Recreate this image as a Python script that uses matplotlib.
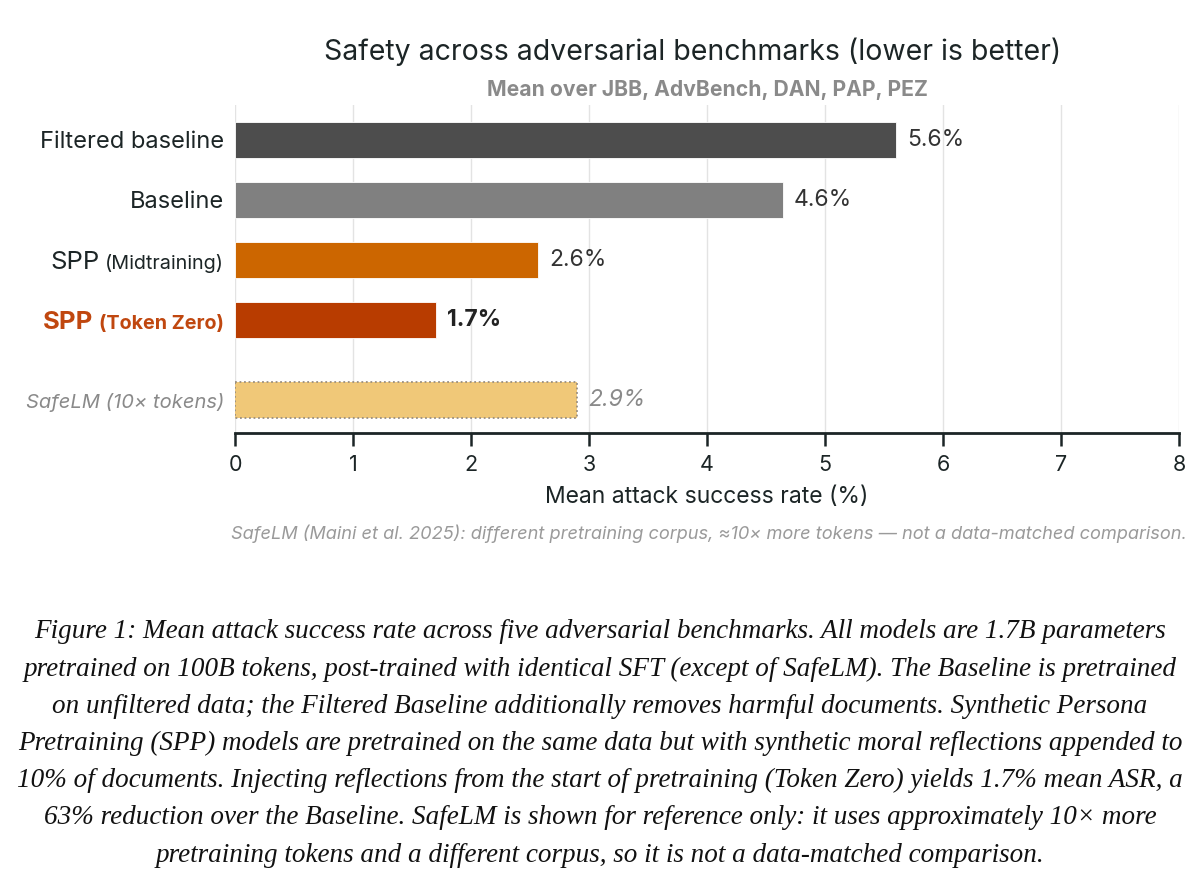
import matplotlib
matplotlib.use("Agg")
import matplotlib.pyplot as plt
from matplotlib.offsetbox import TextArea, HPacker, AnnotationBbox

# ---- data ----
names_main = ["Filtered baseline", "Baseline", "SPP", "SPP", "SafeLM (10× tokens)"]
names_suffix = ["", "", "(Midtraining)", "(Token Zero)", ""]
values = [5.6, 4.64, 2.57, 1.70, 2.9]
value_labels = ["5.6%", "4.6%", "2.6%", "1.7%", "2.9%"]
positions = [0, 1, 2, 3, 4.33]
xticks = [0, 1, 2, 3, 4, 5, 6, 7, 8]

colors = ["#4d4d4d", "#808080", "#cc6600", "#b83c00", "#f0c878"]
label_colors = ["#1c2526", "#1c2526", "#1c2526", "#c0470f", "#8a8a8a"]
label_weights = ["normal", "normal", "normal", "bold", "normal"]
label_styles = ["normal", "normal", "normal", "normal", "italic"]
label_sizes = [17, 17, 18.5, 18.5, 14.5]
val_colors = ["#333333", "#333333", "#333333", "#222222", "#8a8a8a"]

FONT = "Inter"
plt.rcParams["font.family"] = [FONT, "DejaVu Sans"]

W, H = 1200, 892
fig = plt.figure(figsize=(W / 100, H / 100), dpi=100)
ax = fig.add_axes([235 / W, 1 - 433 / H, (1179 - 235) / W, (433 - 105) / H])

for i in range(len(values)):
    if i == 4:
        ax.barh(positions[i], values[i], height=0.6, color=colors[i],
                edgecolor="#9a8f80", linewidth=1.3, linestyle=(0, (1, 1.5)), zorder=3)
    else:
        ax.barh(positions[i], values[i], height=0.6, color=colors[i],
                edgecolor="white", linewidth=0.6, zorder=3)
    ax.annotate(value_labels[i], (values[i], positions[i]), xytext=(8, 0),
                textcoords="offset points", va="center", ha="left",
                fontsize=16.5, color=val_colors[i],
                fontweight="bold" if i == 3 else "normal",
                fontstyle="italic" if i == 4 else "normal")

ax.set_xlim(0, 8)
ax.set_ylim(4.88, -0.58)
ax.set_xticks(xticks)
ax.set_xticklabels([str(t) for t in xticks], fontsize=15.5, color="#1c2526")
ax.set_yticks([])
ax.tick_params(axis="x", direction="out", length=9, width=1.8, color="#1c2526", pad=7)
ax.grid(axis="x", color="#e3e3e3", linewidth=1, zorder=0)
for s in ["top", "right", "left"]:
    ax.spines[s].set_visible(False)
ax.spines["bottom"].set_color("#1c2526")
ax.spines["bottom"].set_linewidth(2)
ax.set_xlabel("Mean attack success rate (%)", fontsize=16.5, color="#1c2526", labelpad=8)

# y category labels
for i in range(len(values)):
    parts = [TextArea(names_main[i], textprops=dict(fontsize=label_sizes[i], color=label_colors[i],
                                                   fontweight=label_weights[i],
                                                   fontstyle=label_styles[i],
                                                   family=[FONT, "DejaVu Sans"]))]
    if names_suffix[i]:
        parts.append(TextArea(names_suffix[i], textprops=dict(fontsize=14.2, color=label_colors[i],
                                                             fontweight=label_weights[i],
                                                             family=[FONT, "DejaVu Sans"])))
    box = HPacker(children=parts, align="baseline", pad=0, sep=4)
    ab = AnnotationBbox(box, (0, positions[i]), xycoords=("axes fraction", "data"),
                        xybox=(-8, -1.5), boxcoords="offset points", box_alignment=(1, 0.5),
                        frameon=False, annotation_clip=False)
    ax.add_artist(ab)

fig.text(693 / W, 1 - 52 / H, "Safety across adversarial benchmarks (lower is better)",
         ha="center", va="center", fontsize=20.5, color="#1c2526")
fig.text(707 / W, 1 - 90 / H, "Mean over JBB, AdvBench, DAN, PAP, PEZ",
         ha="center", va="center", fontsize=15.2, color="#8a8a8a", fontweight="bold")
fig.text(1187 / W, 1 - 534 / H,
         "SafeLM (Maini et al. 2025): different pretraining corpus, ≈10× more tokens — not a data-matched comparison.",
         ha="right", va="center", fontsize=13.1, color="#9a9a9a", fontstyle="italic")

caption = [
    "Figure 1: Mean attack success rate across five adversarial benchmarks. All models are 1.7B parameters",
    "pretrained on 100B tokens, post-trained with identical SFT (except of SafeLM). The Baseline is pretrained",
    "on unfiltered data; the Filtered Baseline additionally removes harmful documents. Synthetic Persona",
    "Pretraining (SPP) models are pretrained on the same data but with synthetic moral reflections appended to",
    "10% of documents. Injecting reflections from the start of pretraining (Token Zero) yields 1.7% mean ASR, a",
    "63% reduction over the Baseline. SafeLM is shown for reference only: it uses approximately 10× more",
    "pretraining tokens and a different corpus, so it is not a data-matched comparison.",
]
for k, line in enumerate(caption):
    fig.text(600 / W, 1 - (632 + 37.2 * k) / H, line, ha="center", va="center",
             fontsize=19.5, fontstyle="italic", color="#111111",
             family=["Liberation Serif", "DejaVu Serif"])

fig.savefig("out.png", dpi=100, facecolor="white")
